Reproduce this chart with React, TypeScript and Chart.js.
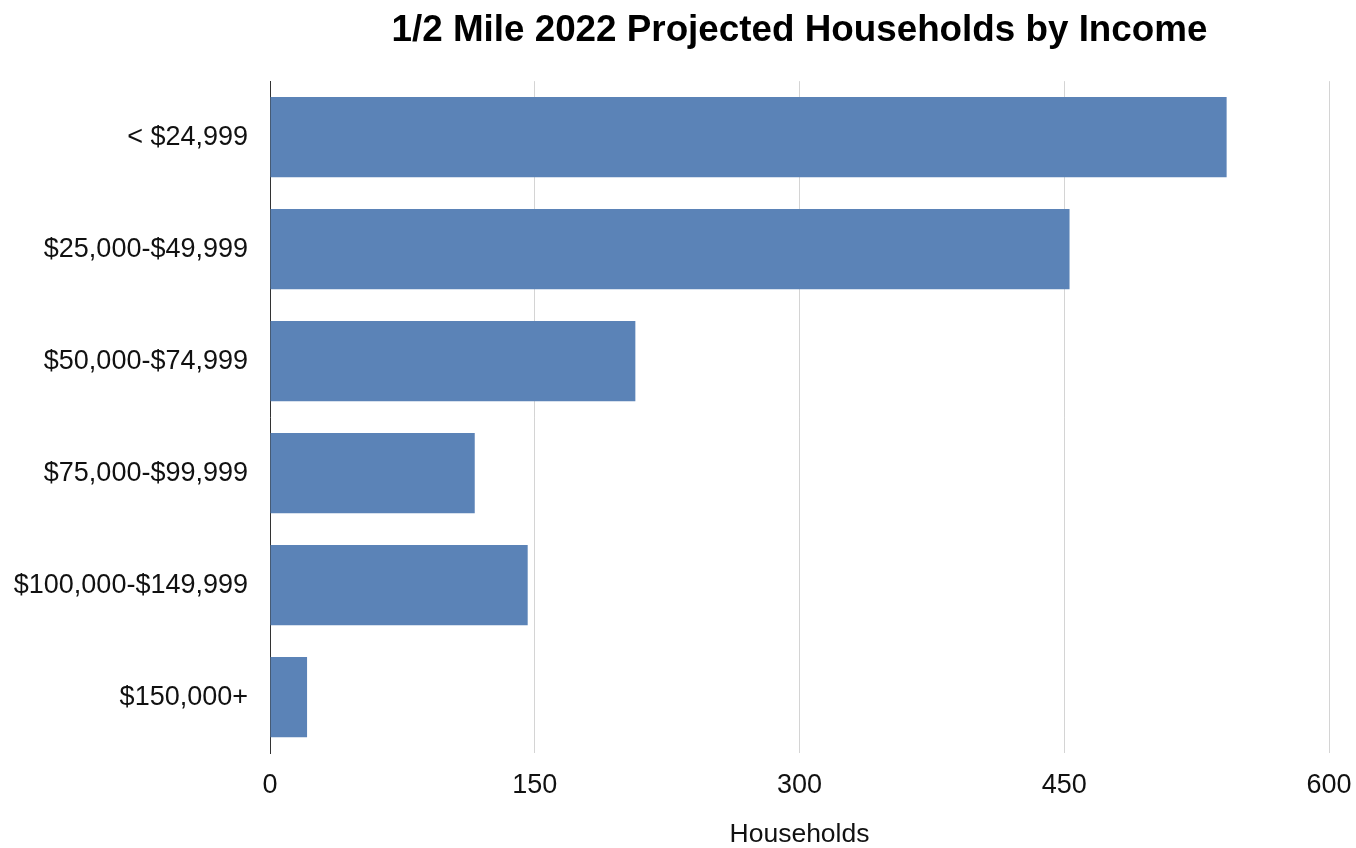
import React, { useEffect, useRef } from "react";
import { Chart, registerables } from "chart.js";

Chart.register(...registerables);

const categories = [
  "< $24,999",
  "$25,000-$49,999",
  "$50,000-$74,999",
  "$75,000-$99,999",
  "$100,000-$149,999",
  "$150,000+",
];
const households = [542, 453, 207, 116, 146, 21];
const xTicks = [0, 150, 300, 450, 600];
const chartTitle = "1/2 Mile 2022 Projected Households by Income";
const xAxisTitle = "Households";

const FONT = "'Liberation Sans', Arial, Helvetica, sans-serif";

export default function App() {
  const ref = useRef<HTMLCanvasElement>(null);

  useEffect(() => {
    if (!ref.current) return;
    const chart = new Chart(ref.current, {
      type: "bar",
      data: {
        labels: categories,
        datasets: [
          {
            data: households,
            backgroundColor: "#5b83b7",
            borderWidth: 0,
            categoryPercentage: 1,
            barPercentage: 0.715,
          },
        ],
      },
      options: {
        indexAxis: "y",
        animation: false,
        responsive: false,
        maintainAspectRatio: false,
        layout: { padding: { left: 0, right: 27, top: 0, bottom: 0 } },
        plugins: {
          legend: { display: false },
          tooltip: { enabled: false },
          title: {
            display: true,
            text: chartTitle,
            fullSize: false,
            color: "#000",
            font: { family: FONT, size: 36.8, weight: "bold", lineHeight: 1.2 },
            padding: { top: 9, bottom: 28 },
          },
        },
        scales: {
          x: {
            min: 0,
            max: 600,
            afterBuildTicks: (scale: any) => {
              scale.ticks = xTicks.map((v) => ({ value: v }));
            },
            afterFit: (scale: any) => {
              scale.paddingLeft = 0;
              scale.paddingRight = 0;
            },
            grid: { color: "#d4d4d4", drawTicks: false, lineWidth: 1 },
            border: { display: false },
            ticks: {
              color: "#111",
              padding: 16,
              font: { family: FONT, size: 27 },
            },
            title: {
              display: true,
              text: xAxisTitle,
              color: "#111",
              font: { family: FONT, size: 26.5, lineHeight: 1 },
              padding: { top: 4, bottom: 0 },
            },
          },
          y: {
            afterFit: (scale: any) => {
              scale.width = 270;
            },
            grid: { display: false, drawTicks: false },
            border: { display: true, color: "#333", width: 1 },
            ticks: {
              color: "#111",
              padding: 22,
              font: { family: FONT, size: 27 },
            },
          },
        },
      },
    });
    return () => chart.destroy();
  }, []);

  return (
    <div style={{ position: "fixed", left: 0, top: 0, width: 1356, height: 848, background: "#fff" }}>
      <canvas ref={ref} width={1356} height={848} style={{ display: "block" }} />
    </div>
  );
}
